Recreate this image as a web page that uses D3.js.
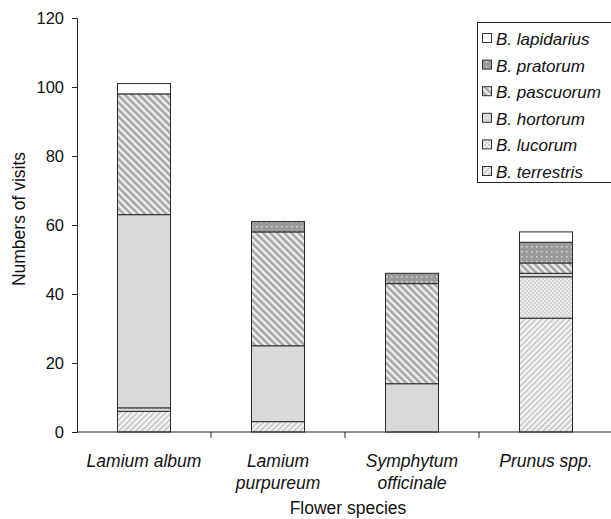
<!DOCTYPE html>
<html>
<head>
<meta charset="utf-8">
<script src="https://cdn.jsdelivr.net/npm/d3@7"></script>
<style>
body { margin: 0; background: #fff; }
text { font-family: "Liberation Sans", Arial, sans-serif; fill: #111; }
</style>
</head>
<body>
<script>
// categories and series (bottom to top in stack)
var flowers = ["Lamium album", "Lamium purpureum", "Symphytum officinale", "Prunus spp."];
var flowerLines = [["Lamium album"], ["Lamium", "purpureum"], ["Symphytum", "officinale"], ["Prunus spp."]];
var species = ["B. terrestris", "B. lucorum", "B. hortorum", "B. pascuorum", "B. pratorum", "B. lapidarius"];
var terrestris = [6, 3, 0, 33];
var lucorum    = [1, 0, 0, 12];
var hortorum   = [56, 22, 14, 1];
var pascuorum  = [35, 33, 29, 3];
var pratorum   = [0, 3, 3, 6];
var lapidarius = [3, 0, 0, 3];
var yTicks = [0, 20, 40, 60, 80, 100, 120];

var width = 611, height = 519;
var margin = {left: 77, top: 18, right: -2, bottom: 87};

var svg = d3.select("body").append("svg")
  .attr("width", width).attr("height", height);

// fill patterns
var defs = svg.append("defs");
var pT = defs.append("pattern").attr("id", "pT").attr("patternUnits", "userSpaceOnUse")
  .attr("width", 4).attr("height", 4).attr("patternTransform", "rotate(45)");
pT.append("rect").attr("width", 4).attr("height", 4).attr("fill", "#f4f4f4");
pT.append("rect").attr("width", 1.6).attr("height", 4).attr("fill", "#c4c4c4");

var pL = defs.append("pattern").attr("id", "pL").attr("patternUnits", "userSpaceOnUse")
  .attr("width", 4).attr("height", 4);
pL.append("rect").attr("width", 4).attr("height", 4).attr("fill", "#ececec");
pL.append("rect").attr("width", 2).attr("height", 2).attr("fill", "#d2d2d2");
pL.append("rect").attr("x", 2).attr("y", 2).attr("width", 2).attr("height", 2).attr("fill", "#d2d2d2");

var pP = defs.append("pattern").attr("id", "pP").attr("patternUnits", "userSpaceOnUse")
  .attr("width", 5).attr("height", 5).attr("patternTransform", "rotate(-45)");
pP.append("rect").attr("width", 5).attr("height", 5).attr("fill", "#f0f0f0");
pP.append("rect").attr("width", 2.6).attr("height", 5).attr("fill", "#a8a8a8");

var pR = defs.append("pattern").attr("id", "pR").attr("patternUnits", "userSpaceOnUse")
  .attr("width", 5).attr("height", 5);
pR.append("rect").attr("width", 5).attr("height", 5).attr("fill", "#9a9a9a");
pR.append("rect").attr("x", 1).attr("y", 1).attr("width", 1.5).attr("height", 1.5).attr("fill", "#d8d8d8");

var fills = ["url(#pT)", "url(#pL)", "#d9d9d9", "url(#pP)", "url(#pR)", "#ffffff"];

// stack data
var rows = flowers.map(function(f, i) {
  return {flower: f, "B. terrestris": terrestris[i], "B. lucorum": lucorum[i], "B. hortorum": hortorum[i],
    "B. pascuorum": pascuorum[i], "B. pratorum": pratorum[i], "B. lapidarius": lapidarius[i]};
});
var stack = d3.stack().keys(species)(rows);

var x = d3.scaleBand().domain(flowers).range([margin.left, width - margin.right]).paddingInner(0).paddingOuter(0);
var barW = 53;
var y = d3.scaleLinear().domain([0, 120]).range([432, 18]);

// bars
svg.selectAll("g.layer").data(stack).enter().append("g")
  .attr("class", "layer")
  .attr("fill", function(d, i) { return fills[i]; })
  .selectAll("rect").data(function(d) { return d.filter(function(s) { return s[1] - s[0] > 0; }); })
  .enter().append("rect")
  .attr("x", function(d) { return x(d.data.flower) + x.bandwidth() / 2 - barW / 2; })
  .attr("width", barW)
  .attr("y", function(d) { return y(d[1]); })
  .attr("height", function(d) { return y(d[0]) - y(d[1]); })
  .attr("stroke", "#2a2a2a")
  .attr("stroke-width", 1);

// y axis
var yAxis = svg.append("g").attr("transform", "translate(" + margin.left + ",0)")
  .call(d3.axisLeft(y).tickValues(yTicks).tickSize(5).tickPadding(8));
yAxis.selectAll("text").style("font-size", "16.5px").attr("dy", "0.35em");
yAxis.selectAll("line, path").attr("stroke", "#222");

// x axis with ticks between categories
var xAxis = svg.append("g").attr("transform", "translate(0,432)");
xAxis.append("line").attr("x1", margin.left).attr("x2", width).attr("stroke", "#222");
xAxis.selectAll("line.tk").data(flowers.slice(1)).enter().append("line")
  .attr("class", "tk")
  .attr("x1", function(d) { return x(d); }).attr("x2", function(d) { return x(d); })
  .attr("y1", 0).attr("y2", 6).attr("stroke", "#222");

svg.selectAll("text.cat").data(flowers).enter().append("text")
  .attr("class", "cat")
  .attr("text-anchor", "middle")
  .style("font-size", "17.5px").style("font-style", "italic")
  .attr("x", function(d) { return x(d) + x.bandwidth() / 2; })
  .attr("y", 467)
  .each(function(d, i) {
    var t = d3.select(this);
    flowerLines[i].forEach(function(line, k) {
      t.append("tspan").attr("x", x(d) + x.bandwidth() / 2).attr("dy", k === 0 ? 0 : 22).text(line);
    });
  });

// axis titles
svg.append("text").attr("x", 348).attr("y", 514).attr("text-anchor", "middle")
  .style("font-size", "17.5px").text("Flower species");
svg.append("text").attr("transform", "translate(25,219) rotate(-90)").attr("text-anchor", "middle")
  .style("font-size", "17.5px").text("Numbers of visits");

// legend (top to bottom reversed)
var legend = svg.append("g");
legend.append("rect").attr("x", 477.5).attr("y", 22.5).attr("width", 140).attr("height", 160)
  .attr("fill", "#fff").attr("stroke", "#222");
var legItems = species.slice().reverse();
var legFills = fills.slice().reverse();
legItems.forEach(function(s, i) {
  var yy = 39 + i * 26.6;
  legend.append("rect").attr("x", 482.5).attr("y", yy - 5.5).attr("width", 9).attr("height", 9)
    .attr("fill", legFills[i]).attr("stroke", "#333");
  legend.append("text").attr("x", 496).attr("y", yy + 6)
    .style("font-size", "17px").style("font-style", "italic").text(s);
});
</script>
</body>
</html>
